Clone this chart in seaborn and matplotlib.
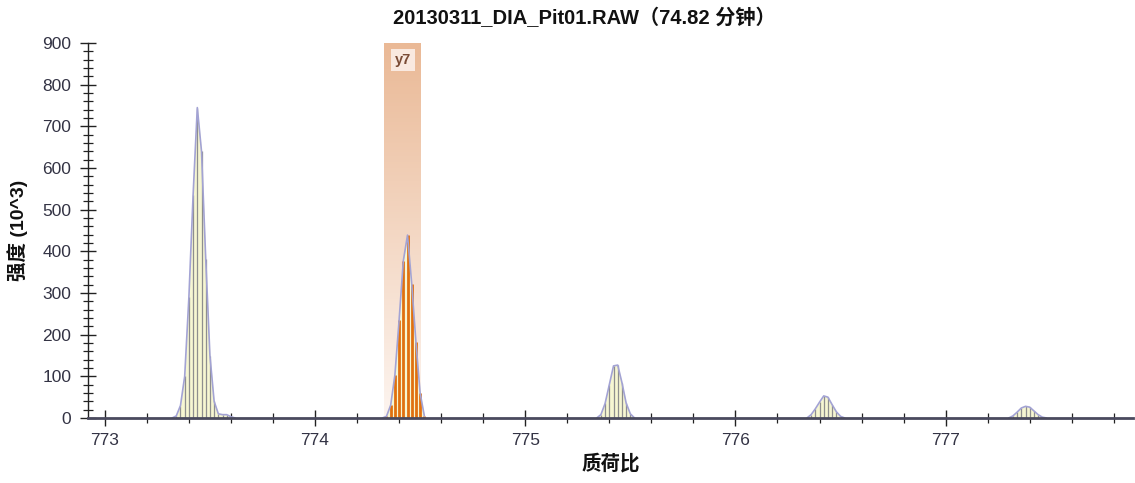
import numpy as np
import pandas as pd
import matplotlib
matplotlib.use("Agg")
import matplotlib.pyplot as plt
from matplotlib.ticker import MultipleLocator
from matplotlib.colors import LinearSegmentedColormap
import seaborn as sns

# ---- data ----
p1_mz = [773.32, 773.34, 773.36, 773.38, 773.40, 773.42, 773.44, 773.46, 773.48, 773.50, 773.52, 773.54, 773.56, 773.58, 773.60, 773.62]
p1_int = [0, 5, 30, 100, 290, 535, 745, 640, 382, 150, 40, 10, 8, 8, 3, 0]

p2_mz = [774.32, 774.34, 774.36, 774.38, 774.40, 774.42, 774.44, 774.46, 774.48, 774.50, 774.52]
p2_int = [0, 4, 31, 103, 235, 377, 439, 322, 182, 60, 5]

p3_mz = [775.34, 775.36, 775.38, 775.40, 775.42, 775.44, 775.46, 775.48, 775.50, 775.52]
p3_int = [0, 8, 35, 80, 125, 127, 85, 36, 10, 0]

p4_mz = [776.34, 776.36, 776.38, 776.40, 776.42, 776.44, 776.46, 776.48, 776.50, 776.52]
p4_int = [0, 8, 22, 38, 53, 50, 32, 15, 4, 0]

p5_mz = [777.30, 777.32, 777.34, 777.36, 777.38, 777.40, 777.42, 777.44, 777.46, 777.48]
p5_int = [0, 5, 14, 24, 28, 26, 17, 8, 2, 0]

y7_range = [774.33, 774.505]
y7_label = "y7"

x_ticks = [773, 774, 775, 776, 777]
title = "20130311_DIA_Pit01.RAW（74.82 分钟）"
xlabel = "质荷比"
ylabel = "强度 (10^3)"

# ---- style ----
sns.set_theme(style="white")
fam = ["Liberation Sans", "Noto Sans CJK SC", "DejaVu Sans"]
plt.rcParams["font.family"] = fam
plt.rcParams["axes.unicode_minus"] = False

fig = plt.figure(figsize=(11.35, 4.83), dpi=100)
ax = fig.add_axes([88 / 1135, 1 - 418 / 483, 1 - 88 / 1135 - 0.002, (418 - 43) / 483])

fill_c = "#f6f6d2"
edge_c = "#a3a3d4"
stick_c = "#8e8e8e"
orange = "#e0700f"

# highlight band with vertical gradient
grad = np.linspace(0, 1, 256).reshape(-1, 1)
cmap = LinearSegmentedColormap.from_list("band", ["#eab996", "#fdf5f0"])
ax.imshow(grad, cmap=cmap, aspect="auto", extent=[y7_range[0], y7_range[1], 0, 900],
          origin="upper", zorder=0.5)

peaks = [(p1_mz, p1_int, False), (p2_mz, p2_int, True), (p3_mz, p3_int, False),
         (p4_mz, p4_int, False), (p5_mz, p5_int, False)]

for mz, inten, hl in peaks:
    df = pd.DataFrame({"mz": mz, "intensity": inten})
    ax.fill_between(df["mz"], 0, df["intensity"], color=fill_c, zorder=1, lw=0)
    if hl:
        ax.vlines(df["mz"], 0, df["intensity"], color=orange, lw=2.0, zorder=2)
    else:
        ax.vlines(df["mz"], 0, df["intensity"], color=stick_c, lw=0.9, zorder=2)
    sns.lineplot(data=df, x="mz", y="intensity", ax=ax, color=edge_c, lw=1.2,
                 zorder=3, estimator=None, sort=True)

# y7 label
ax.text(sum(y7_range) / 2, 859, y7_label, ha="center", va="center", fontsize=10.5,
        fontweight="bold", color="#7a4b35", family=fam, zorder=4,
        bbox=dict(boxstyle="square,pad=0.25", fc="#fbefe8", ec="none", alpha=0.9))

ax.set_xlim(772.92, 777.89)
ax.set_ylim(0, 900)
ax.xaxis.set_major_locator(MultipleLocator(1))
ax.xaxis.set_minor_locator(MultipleLocator(0.2))
ax.yaxis.set_major_locator(MultipleLocator(100))
ax.yaxis.set_minor_locator(MultipleLocator(20))
ax.set_xticks(x_ticks)
ax.set_xticklabels([str(t) for t in x_ticks])

ax.tick_params(axis="both", which="major", direction="inout", length=12, width=1.0,
               color="#222222", labelsize=12.5, labelcolor="#333344",
               bottom=True, left=True)
ax.tick_params(axis="both", which="minor", direction="inout", length=7, width=0.9,
               color="#222222", bottom=True, left=True)
ax.tick_params(axis="x", which="major", pad=5)
ax.tick_params(axis="y", which="major", pad=6)

for s in ["top", "right"]:
    ax.spines[s].set_visible(False)
ax.spines["left"].set_color("#222222")
ax.spines["left"].set_linewidth(1.0)
ax.spines["bottom"].set_color("#4a4a5e")
ax.spines["bottom"].set_linewidth(2.0)
ax.spines["bottom"].set_zorder(5)

ax.set_xlabel(xlabel, fontsize=14, fontweight="bold", family=fam, labelpad=4, color="#111111")
ax.set_ylabel(ylabel, fontsize=14, fontweight="bold", family=fam, labelpad=10, color="#111111")
ax.grid(False)

fig.text(584 / 1135, 1 - 18 / 483, title, ha="center", va="center", fontsize=14.5,
         fontweight="bold", family=fam, color="#111111")

fig.savefig("out.png", dpi=100)
